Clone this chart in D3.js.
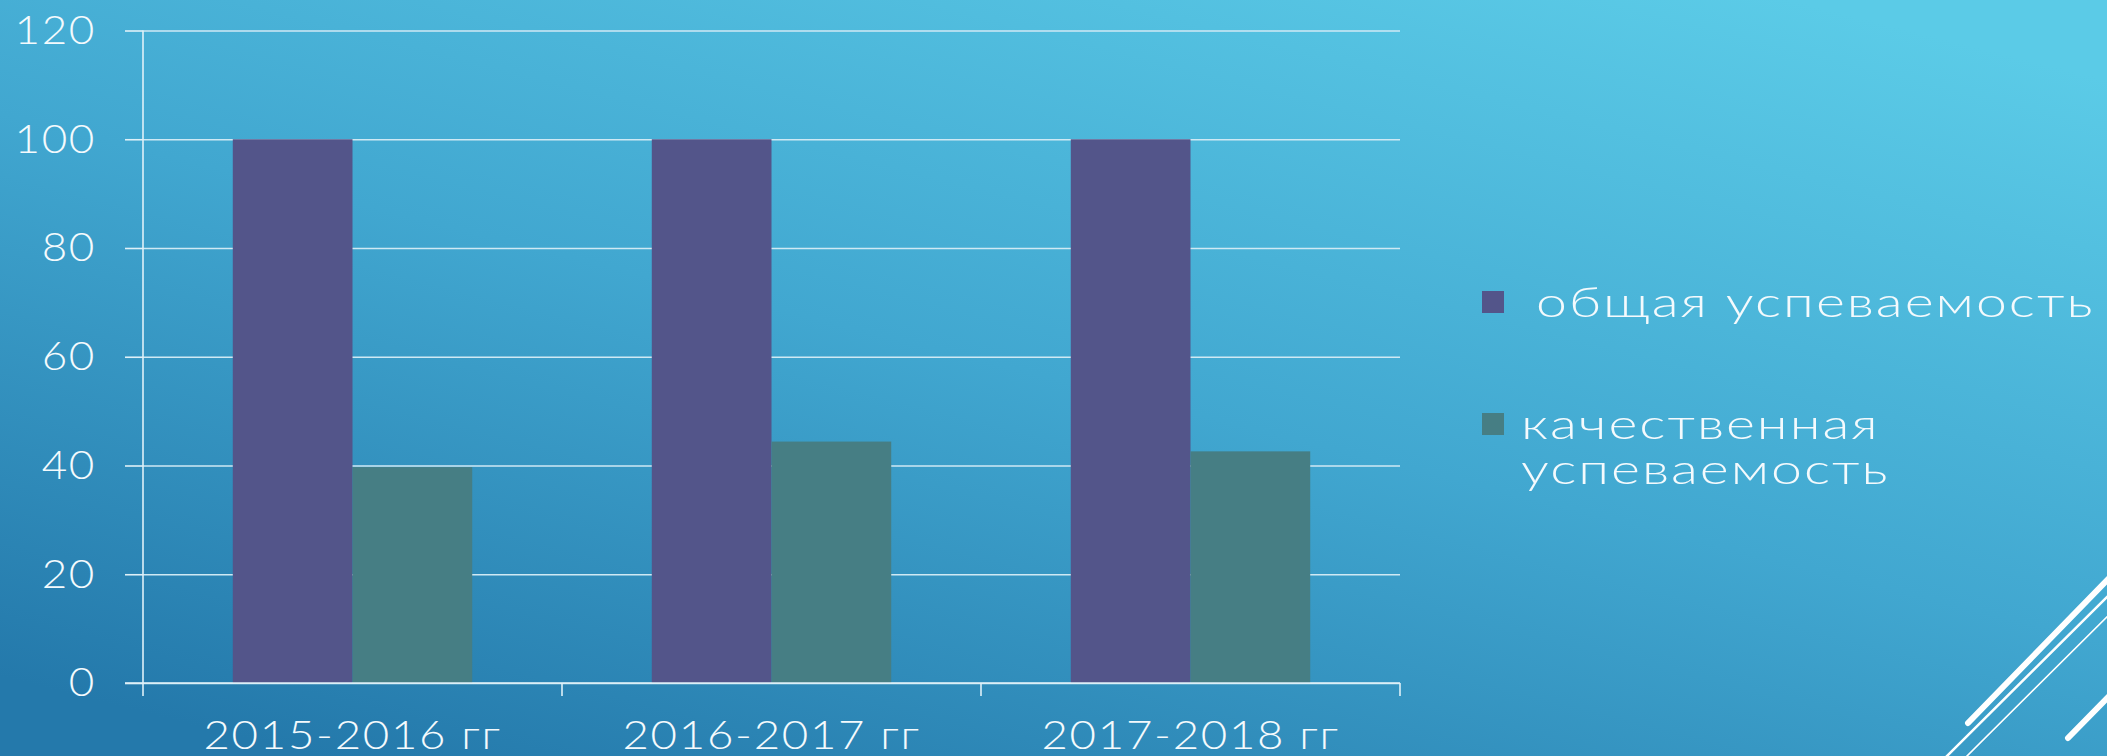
<!DOCTYPE html>
<html>
<head>
<meta charset="utf-8">
<script src="https://cdn.jsdelivr.net/npm/d3@7"></script>
<style>
  html, body { margin: 0; padding: 0; overflow: hidden; }
  svg { display: block; }
  .lbl { font-family: Lato, 'Open Sans', sans-serif; font-weight: 300; fill: #f4fafd; }
</style>
</head>
<body>
<svg width="2107" height="756"></svg>
<script>
'use strict';
// chart data
const years = ['2015-2016 гг', '2016-2017 гг', '2017-2018 гг'];
const series = ['общая успеваемость', 'качественная успеваемость'];
const general_vals = [100, 100, 100];
const quality_vals = [39.7, 44.4, 42.6];
const y_ticks = [0, 20, 40, 60, 80, 100, 120];
const bar_colors = ['#53558a', '#467e84'];

const svg = d3.select('svg');
const svg_width = +svg.attr('width');
const svg_height = +svg.attr('height');

// background gradient
const defs = svg.append('defs');
const grad = defs.append('linearGradient')
  .attr('id', 'bg')
  .attr('x1', 0.85).attr('y1', 0)
  .attr('x2', 0.15).attr('y2', 1);
grad.append('stop').attr('offset', 0).attr('stop-color', '#5bcbe7');
grad.append('stop').attr('offset', 0.5).attr('stop-color', '#41a7d0');
grad.append('stop').attr('offset', 1).attr('stop-color', '#2479ab');
svg.append('rect')
  .attr('width', svg_width).attr('height', svg_height)
  .attr('fill', 'url(#bg)');

const plot = {left: 143, right: 1400, top: 30.5, bottom: 683};
const plot_width = plot.right - plot.left;
// the slide text is horizontally stretched, mimic with scaleX
const sx_y = 1.1, sx_x = 1.14, sx_leg = 1.32;

//scales
const x_scale = d3.scaleBand()
  .domain(years)
  .range([plot.left, plot.right]);

const inner_scale = d3.scaleBand()
  .domain(series)
  .range([0, x_scale.bandwidth()])
  .paddingOuter(0.75);

const y_scale = d3.scaleLinear()
  .domain([0, 120])
  .range([plot.bottom, plot.top]);

const color_scale = d3.scaleOrdinal()
  .domain(series)
  .range(bar_colors);

// gridlines (drawn behind bars)
svg.append('g')
  .attr('transform', `translate(${plot.left},0)`)
  .call(d3.axisLeft(y_scale).tickValues(y_ticks).tickSize(-plot_width).tickFormat(''))
  .call(g => g.select('.domain').remove())
  .call(g => g.selectAll('line').attr('stroke', '#cfe9f4').attr('stroke-width', 1.6));

// bars
const rows = years.map((yr, i) => ({year: yr, values: [general_vals[i], quality_vals[i]]}));
svg.append('g')
  .selectAll('g').data(rows).enter()
  .append('g')
    .attr('transform', d => `translate(${x_scale(d.year)},0)`)
  .selectAll('rect')
  .data(d => series.map((key, j) => ({key: key, value: d.values[j]})))
  .enter()
  .append('rect')
    .attr('x', d => inner_scale(d.key))
    .attr('y', d => y_scale(d.value))
    .attr('width', inner_scale.bandwidth())
    .attr('height', d => y_scale(0) - y_scale(d.value))
    .attr('fill', d => color_scale(d.key));

// left axis
svg.append('g')
  .attr('transform', `translate(${plot.left},0)`)
  .call(d3.axisLeft(y_scale).tickValues(y_ticks).tickSize(18).tickPadding(31).tickSizeOuter(0))
  .call(g => g.select('.domain').attr('d', `M0,${plot.top}V${plot.bottom + 13}`))
  .call(g => g.selectAll('line, .domain').attr('stroke', '#dff0f8').attr('stroke-width', 1.6))
  .call(g => g.selectAll('text')
    .attr('class', 'lbl')
    .attr('font-size', 40)
    .attr('letter-spacing', 1.5)
    .attr('x', -47 / sx_y)
    .attr('transform', `scale(${sx_y},1)`));

// bottom axis with ticks between categories
const x_bounds = years.map(d => x_scale(d)).concat([plot.right]);
const bottom_g = svg.append('g')
  .attr('transform', `translate(0,${plot.bottom})`);
bottom_g.append('line')
  .attr('x1', plot.left - 18).attr('x2', plot.right)
  .attr('stroke', '#dff0f8').attr('stroke-width', 1.6);
bottom_g.selectAll('.xtick').data(x_bounds.slice(1)).enter()
  .append('line')
    .attr('x1', d => d).attr('x2', d => d)
    .attr('y1', 0).attr('y2', 13)
    .attr('stroke', '#dff0f8').attr('stroke-width', 1.6);
bottom_g.selectAll('.xlbl').data(years).enter()
  .append('text')
    .attr('class', 'lbl')
    .attr('transform', d => `translate(${x_scale(d) + x_scale.bandwidth() / 2},66) scale(${sx_x},1)`)
    .attr('text-anchor', 'middle')
    .attr('font-size', 40)
    .attr('letter-spacing', 1.5)
    .text(d => d);

// legend
const legend = svg.append('g')
  .attr('transform', 'translate(1482,291)');
const legend_items = legend.selectAll('g').data(series).enter()
  .append('g')
    .attr('transform', (d, i) => `translate(0,${i * 122})`);
legend_items.append('rect')
  .attr('width', 22).attr('height', 22)
  .attr('fill', color_scale);
legend_items.append('text')
  .attr('class', 'lbl')
  .attr('transform', (d, i) => `translate(${i === 0 ? 54 : 39},26) scale(${sx_leg},1)`)
  .attr('font-size', 42)
  .attr('letter-spacing', 1.5)
  .each(function(d, i) {
    const el = d3.select(this);
    if (i === 0) {
      el.text(d);
    } else {
      d.split(' ').forEach((w, k) => {
        el.append('tspan').attr('x', 0).attr('dy', k === 0 ? 0 : 45).text(w);
      });
    }
  });

// decorative corner strokes
const deco = svg.append('g').attr('stroke', '#ffffff').attr('stroke-linecap', 'round').attr('fill', 'none');
deco.append('line').attr('x1', 1968).attr('y1', 723).attr('x2', 2115).attr('y2', 572).attr('stroke-width', 6);
deco.append('line').attr('x1', 1945).attr('y1', 758).attr('x2', 2115).attr('y2', 589).attr('stroke-width', 2.5);
deco.append('line').attr('x1', 1965).attr('y1', 758).attr('x2', 2115).attr('y2', 609).attr('stroke-width', 1.6);
deco.append('line').attr('x1', 2068).attr('y1', 738).attr('x2', 2115).attr('y2', 690).attr('stroke-width', 6);
</script>
</body>
</html>
